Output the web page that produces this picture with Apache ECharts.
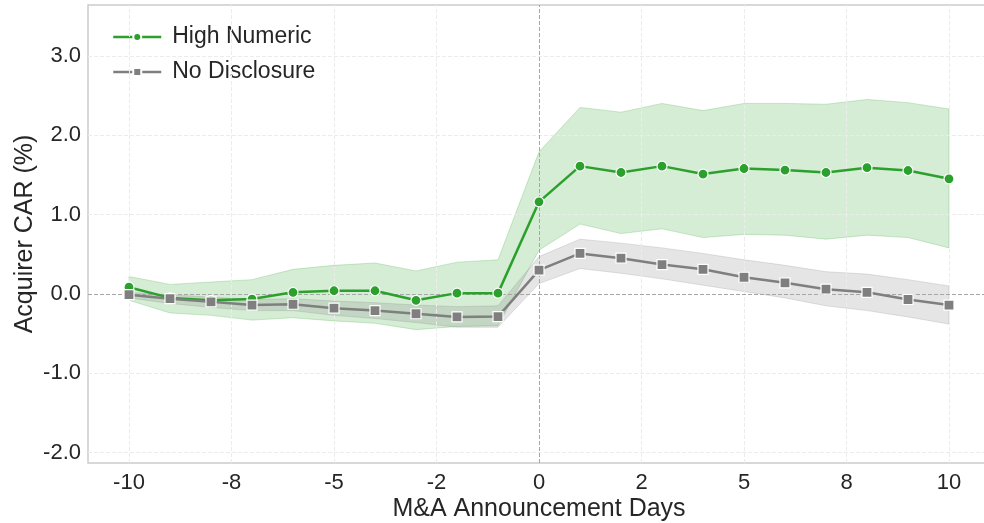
<!DOCTYPE html>
<html>
<head>
<meta charset="utf-8">
<script src="https://cdn.jsdelivr.net/npm/echarts@6/dist/echarts.min.js"></script>
<style>
    html, body { margin: 0; padding: 0; background: #fff; }
    #carChart { width: 984px; height: 523px; }
</style>
</head>
<body>
<div id="carChart"></div>
<script type="text/javascript">
    // event days
    var days = [-10, -9, -8, -7, -6, -5, -4, -3, -2, -1, 0, 1, 2, 3, 4, 5, 6, 7, 8, 9, 10];

    // High Numeric: mean CAR and band
    var highMean = [0.085, -0.05, -0.08, -0.065, 0.02, 0.04, 0.04, -0.08, 0.01, 0.01, 1.16, 1.61, 1.53, 1.61, 1.51, 1.58, 1.56, 1.53, 1.59, 1.555, 1.45];
    var highUpper = [0.22, 0.12, 0.15, 0.18, 0.31, 0.36, 0.39, 0.29, 0.40, 0.43, 1.79, 2.35, 2.29, 2.40, 2.31, 2.40, 2.40, 2.39, 2.45, 2.41, 2.33];
    var highLower = [-0.08, -0.24, -0.27, -0.33, -0.30, -0.34, -0.37, -0.45, -0.41, -0.40, 0.55, 0.88, 0.76, 0.82, 0.71, 0.75, 0.74, 0.69, 0.74, 0.71, 0.58];

    // No Disclosure: mean CAR and band
    var noneMean = [-0.01, -0.06, -0.10, -0.14, -0.13, -0.18, -0.21, -0.25, -0.29, -0.285, 0.30, 0.51, 0.45, 0.37, 0.31, 0.21, 0.14, 0.06, 0.02, -0.07, -0.14];
    var noneUpper = [0.02, -0.01, -0.04, -0.07, -0.06, -0.09, -0.11, -0.14, -0.16, -0.15, 0.47, 0.69, 0.64, 0.58, 0.51, 0.43, 0.36, 0.28, 0.25, 0.18, 0.10];
    var noneLower = [-0.05, -0.12, -0.17, -0.21, -0.21, -0.27, -0.31, -0.36, -0.42, -0.42, 0.13, 0.32, 0.26, 0.19, 0.11, 0.03, -0.05, -0.15, -0.21, -0.29, -0.38];

    // ticks
    var xTickValues = [-10, -7.5, -5, -2.5, 0, 2.5, 5, 7.5, 10];
    var xTickLabels = ['-10', '-8', '-5', '-2', '0', '2', '5', '8', '10'];
    var yTickValues = [-2, -1, 0, 1, 2, 3];
    var yTickLabels = ['-2.0', '-1.0', '0.0', '1.0', '2.0', '3.0'];

    var font = 'Liberation Sans, Arial, sans-serif';
    var textColor = '#262626';

    var chart = echarts.init(document.getElementById('carChart'), null, {renderer: 'canvas'});

    // shaded band drawn as one polygon through the axes
    function bandSeries(name, lower, upper, fill, edge, z) {
        return {
            name: name,
            type: 'custom',
            z: z,
            silent: true,
            data: days.map(function (d, i) { return [d, lower[i], upper[i]]; }),
            encode: {x: 0, y: [1, 2]},
            renderItem: function (params, api) {
                if (params.dataIndex !== 0) return null;
                var pts = [];
                for (var i = 0; i < days.length; i++) pts.push(api.coord([days[i], upper[i]]));
                for (var j = days.length - 1; j >= 0; j--) pts.push(api.coord([days[j], lower[j]]));
                return {
                    type: 'polygon',
                    shape: {points: pts},
                    style: {fill: fill, stroke: edge, lineWidth: 1}
                };
            }
        };
    }

    function pairs(vals) {
        return days.map(function (d, i) { return [d, vals[i]]; });
    }

    // grid lines (light) + zero reference lines (darker)
    var gridLines = [];
    xTickValues.forEach(function (v) {
        if (v !== 0) gridLines.push({xAxis: v});
    });
    yTickValues.forEach(function (v) {
        if (v !== 0) gridLines.push({yAxis: v});
    });
    gridLines.push({xAxis: 0, lineStyle: {color: '#a6a6a6', type: [4, 2], width: 1}});
    gridLines.push({yAxis: 0, lineStyle: {color: '#a6a6a6', type: [4, 2], width: 1}});

    var option = {
        animation: false,
        backgroundColor: '#ffffff',
        textStyle: {fontFamily: font},
        grid: {
            left: 88, top: 5, right: -6, bottom: 60,
            outerBoundsMode: 'none',
            containLabel: false,
            show: true, borderColor: '#cccccc', borderWidth: 1.5, backgroundColor: 'transparent'
        },
        legend: {
            data: ['High Numeric', 'No Disclosure'],
            orient: 'vertical',
            left: 107, top: 19,
            itemWidth: 48, itemHeight: 10, itemGap: 9,
            selectedMode: false,
            lineStyle: {width: 2.5},
            textStyle: {fontSize: 23, color: textColor, fontFamily: font, lineHeight: 26, padding: [0, 0, 0, 6]}
        },
        xAxis: {
            type: 'value', min: -11, max: 11,
            axisLine: {show: false}, axisTick: {show: false}, splitLine: {show: false},
            axisLabel: {
                customValues: xTickValues,
                formatter: function (v) { return xTickLabels[xTickValues.indexOf(v)]; },
                fontSize: 22, color: textColor, fontFamily: font, margin: 9
            },
            name: 'M&A Announcement Days', nameLocation: 'middle', nameGap: 34,
            nameMoveOverlap: false,
            nameTextStyle: {fontSize: 25, color: textColor, fontFamily: font}
        },
        yAxis: {
            type: 'value', min: -2.13, max: 3.64,
            axisLine: {show: false}, axisTick: {show: false}, splitLine: {show: false},
            axisLabel: {
                customValues: yTickValues,
                formatter: function (v) { return yTickLabels[yTickValues.indexOf(v)]; },
                fontSize: 22, color: textColor, fontFamily: font, margin: 7
            },
            name: 'Acquirer CAR (%)', nameLocation: 'middle', nameGap: 50,
            nameMoveOverlap: false,
            nameTextStyle: {fontSize: 25, color: textColor, fontFamily: font}
        },
        series: [
            {
                name: 'grid',
                type: 'line',
                z: 0,
                data: [],
                silent: true,
                markLine: {
                    silent: true,
                    symbol: ['none', 'none'],
                    label: {show: false},
                    lineStyle: {color: '#ececec', type: [4, 2], width: 1},
                    data: gridLines
                }
            },
            bandSeries('High band', highLower, highUpper, 'rgba(44,160,44,0.2)', 'rgba(44,160,44,0.22)', 1),
            bandSeries('None band', noneLower, noneUpper, 'rgba(127,127,127,0.2)', 'rgba(127,127,127,0.22)', 2),
            {
                name: 'High Numeric',
                type: 'line',
                z: 5,
                data: pairs(highMean),
                symbol: 'circle', symbolSize: 10,
                color: '#2ca02c',
                lineStyle: {width: 2.5, color: '#2ca02c'},
                itemStyle: {color: '#2ca02c', borderColor: '#ffffff', borderWidth: 1.2},
                emphasis: {disabled: true}
            },
            {
                name: 'No Disclosure',
                type: 'line',
                z: 6,
                data: pairs(noneMean),
                symbol: 'rect', symbolSize: 10,
                color: '#7f7f7f',
                lineStyle: {width: 2.5, color: '#7f7f7f'},
                itemStyle: {color: '#7f7f7f', borderColor: '#ffffff', borderWidth: 1.2},
                emphasis: {disabled: true}
            }
        ]
    };

    chart.setOption(option);
</script>
</body>
</html>
